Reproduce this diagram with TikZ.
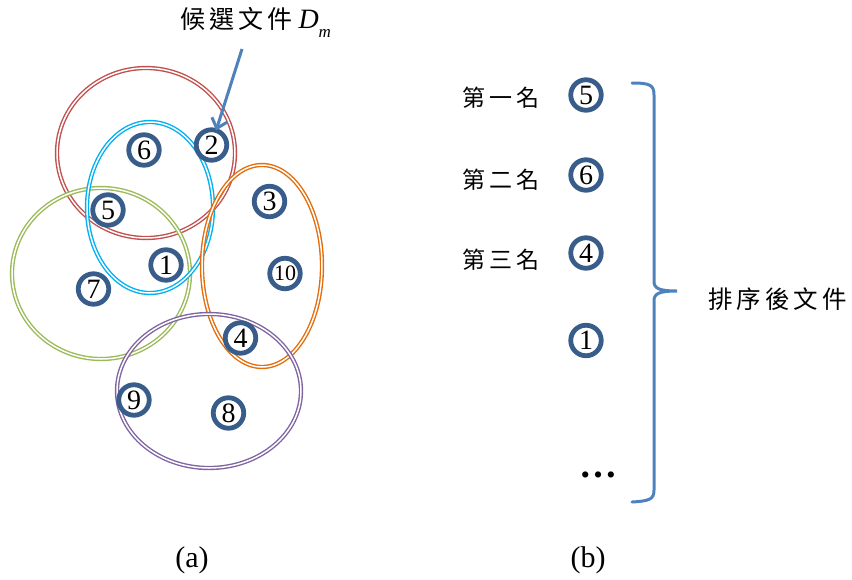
\documentclass[tikz,border=0pt]{standalone}
\usepackage{fontspec}
\setmainfont{Liberation Serif}
\newfontfamily\cjk{Noto Sans CJK TC}
\usetikzlibrary{arrows.meta, positioning}

\definecolor{ringblue}{RGB}{56,93,138}
\definecolor{lineblue}{RGB}{79,129,189}
\definecolor{cred}{RGB}{192,80,77}
\definecolor{ccyan}{RGB}{0,176,240}
\definecolor{cgreen}{RGB}{155,187,89}
\definecolor{corange}{RGB}{228,108,10}
\definecolor{cpurple}{RGB}{128,100,162}

\begin{document}
\begin{tikzpicture}[x=1pt, y=-1pt, every node/.style={outer sep=0pt}]
\tikzstyle{doc}=[circle, draw=ringblue, line width=4.8pt, minimum size=30.5pt, inner sep=0pt, font=\fontsize{28}{28}\selectfont]
\tikzstyle{cluster}=[double=white, double distance=1.5pt, line width=1.4pt]
\tikzstyle{rank}=[font=\cjk\fontsize{23}{23}\selectfont]
\tikzstyle{pointer}=[draw=lineblue, line width=3pt]

\useasboundingbox (0,0) rectangle (852,579);

% (a) clusters
\draw [cluster, draw=cred] (146,153) ellipse [x radius=89, y radius=85];
\draw [cluster, draw=cgreen] (101,273.5) ellipse [x radius=89, y radius=85.5];
\draw [cluster, draw=ccyan] (150,207.5) ellipse [x radius=63, y radius=85.5];
\draw [cluster, draw=corange] (262,266) ellipse [x radius=60, y radius=101];
\draw [cluster, draw=cpurple] (209,391) ellipse [x radius=92, y radius=77];

% documents
\node (d6) [doc] at (144,150) {6};
\node (d2) [doc] at (211.5,145) {2};
\node (d5) [doc] at (108,210) {5};
\node (d3) [doc] at (269.5,201.5) {3};
\node (d1) [doc] at (166,265) {1};
\node (d10) [doc, font=\fontsize{22}{22}\selectfont] at (285,273.5) {10};
\node (d7) [doc] at (93.5,289) {7};
\node (d4) [doc] at (240.5,338) {4};
\node (d9) [doc] at (134,400) {9};
\node (d8) [doc] at (228.5,413) {8};

\node (cand) [anchor=base west, inner sep=0pt, font=\fontsize{25}{25}\selectfont] at (180,28) {{\cjk 候\,選\,文\,件}\kern6pt{\itshape\fontsize{28}{28}\selectfont D}\raisebox{-9pt}{\itshape\fontsize{17}{17}\selectfont m}};
\coordinate (tail) at (242,49);
\draw [pointer, -{Straight Barb[length=9pt, width=16pt]}] (tail) -- (d2);

\node (capa) [font=\fontsize{30}{30}\selectfont] at (192,560) {(a)};

% (b) ranking
\node (r1) [doc] at (586,95) {5};
\node (r2) [doc] at (586,175) {6};
\node (r3) [doc] at (586,253) {4};
\node (r4) [doc] at (586,340.5) {1};
\node (more) [font=\bfseries\fontsize{38}{38}\selectfont] at (598,475) {…};

\node (n1) [rank] at (501,97.5) {第\,一\,名};
\node (n2) [rank] at (501,179.5) {第\,二\,名};
\node (n3) [rank] at (501,259.5) {第\,三\,名};

\draw [pointer, line cap=round] (632,83) .. controls (650,83) and (654,85) .. (654,95) -- (654,281)
  .. controls (654,288) and (658,291) .. (677,291)
  .. controls (658,291) and (654,294) .. (654,301) -- (654,490)
  .. controls (654,499) and (650,501) .. (632,502);
\node (sorted) [font=\cjk\fontsize{24.5}{24.5}\selectfont] at (777.5,299.5) {排\,序\,後\,文\,件};

\node (capb) [font=\fontsize{30}{30}\selectfont] at (588,560) {(b)};
\end{tikzpicture}
\end{document}
